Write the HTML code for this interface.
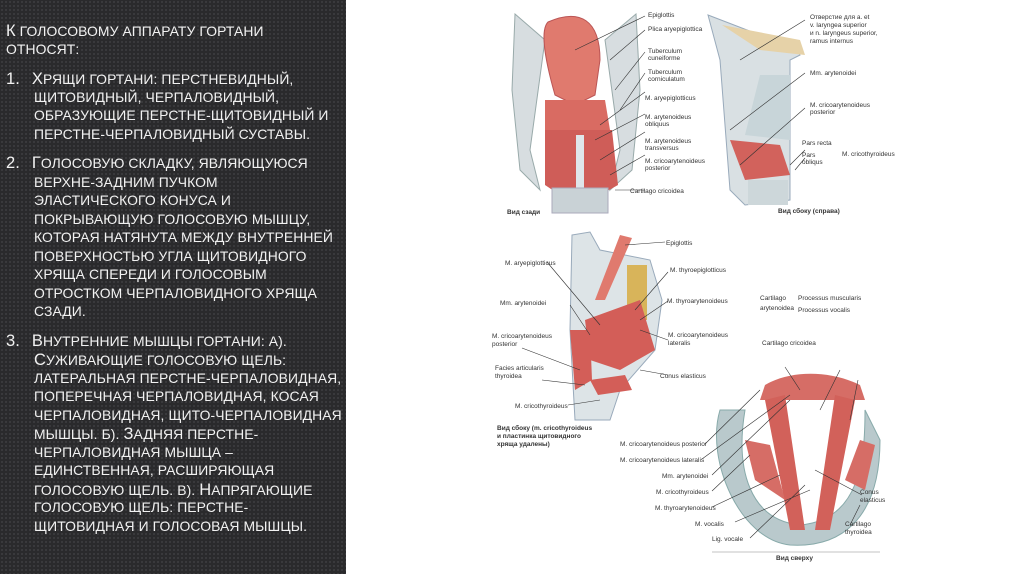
<!DOCTYPE html>
<html><head><meta charset="utf-8"><style>
html,body{margin:0;padding:0}
body{width:1024px;height:574px;position:relative;overflow:hidden;background:#fff;font-family:"Liberation Sans","DejaVu Sans",sans-serif}
#left{position:absolute;left:0;top:0;width:346px;height:574px;background:#2a2a2c;background-image:radial-gradient(#3a3a3d 1px,transparent 1.3px);background-size:4px 4px}
.l{position:absolute;color:#f2f2f2;font-size:13.9px;white-space:nowrap;text-transform:uppercase;letter-spacing:0.1px}
.l b{font-weight:normal;font-size:16.5px}
svg{position:absolute;left:0;top:0}
svg text{font-family:"Liberation Sans",sans-serif;font-size:6.5px;fill:#333}
</style></head><body>
<div id="left"></div>
<div class="l" style="left:6px;top:22px"><b>К</b> голосовому аппарату гортани</div>
<div class="l" style="left:6px;top:41px">относят:</div>
<div class="l" style="left:6px;top:70px"><b>1.</b>&nbsp;&nbsp;&nbsp;<b>Х</b>рящи гортани: перстневидный,</div>
<div class="l" style="left:34px;top:89px">щитовидный, черпаловидный,</div>
<div class="l" style="left:34px;top:107px">образующие перстне-щитовидный и</div>
<div class="l" style="left:34px;top:126px">перстне-черпаловидный суставы.</div>
<div class="l" style="left:6px;top:154px"><b>2.</b>&nbsp;&nbsp;&nbsp;<b>Г</b>олосовую складку, являющуюся</div>
<div class="l" style="left:34px;top:174px">верхне-задним пучком</div>
<div class="l" style="left:34px;top:192px">эластического конуса и</div>
<div class="l" style="left:34px;top:211px">покрывающую голосовую мышцу,</div>
<div class="l" style="left:34px;top:229px">которая натянута между внутренней</div>
<div class="l" style="left:34px;top:248px">поверхностью угла щитовидного</div>
<div class="l" style="left:34px;top:266px">хряща спереди и голосовым</div>
<div class="l" style="left:34px;top:285px">отростком черпаловидного хряща</div>
<div class="l" style="left:34px;top:303px">сзади.</div>
<div class="l" style="left:6px;top:332px"><b>3.</b>&nbsp;&nbsp;&nbsp;<b>В</b>нутренние мышцы гортани: а).</div>
<div class="l" style="left:34px;top:351px"><b>С</b>уживающие голосовую щель:</div>
<div class="l" style="left:34px;top:370px">латеральная перстне-черпаловидная,</div>
<div class="l" style="left:34px;top:388px">поперечная черпаловидная, косая</div>
<div class="l" style="left:34px;top:407px">черпаловидная, щито-черпаловидная</div>
<div class="l" style="left:34px;top:425px">мышцы. б). <b>З</b>адняя перстне-</div>
<div class="l" style="left:34px;top:444px">черпаловидная мышца –</div>
<div class="l" style="left:34px;top:462px">единственная, расширяющая</div>
<div class="l" style="left:34px;top:481px">голосовую щель. в). <b>Н</b>апрягающие</div>
<div class="l" style="left:34px;top:499px">голосовую щель: перстне-</div>
<div class="l" style="left:34px;top:518px">щитовидная и голосовая мышцы.</div>

<svg width="1024" height="574" viewBox="0 0 1024 574">
<path d="M515 14 L545 40 L530 150 L540 190 L520 170 L512 90 Z" fill="#d7dde0" stroke="#9aa"/>
<path d="M636 14 L605 40 L620 150 L610 190 L632 170 L640 90 Z" fill="#d7dde0" stroke="#9aa"/>
<path d="M548 22 C580 8 600 20 600 60 L595 95 L575 105 L555 95 C545 60 540 30 548 22Z" fill="#e07a6e" stroke="#b55"/>
<path d="M545 100 L605 100 L610 130 L545 130Z" fill="#d96b62"/>
<path d="M545 130 L612 130 L618 185 L600 195 L560 195 L545 185Z" fill="#cf5d58"/>
<rect x="576" y="135" width="8" height="55" fill="#dfe6ea"/>
<rect x="552" y="188" width="56" height="25" fill="#c9d2d6" stroke="#aab"/>
<path d="M708 15 L760 35 L790 40 L800 55 L790 60 L790 200 L745 205 L730 190 L720 60Z" fill="#d9e0e3" stroke="#9ab"/>
<path d="M722 25 L800 40 L805 55 L760 50Z" fill="#e6d2a8"/>
<path d="M760 75 L790 75 L790 140 L745 135Z" fill="#c8d5d9"/>
<path d="M730 140 L780 145 L790 175 L745 180Z" fill="#d2625c"/>
<rect x="748" y="180" width="40" height="25" fill="#cdd7da"/>
<path d="M572 235 L590 232 L600 250 L650 260 L662 300 L655 350 L620 390 L610 420 L575 420 L570 330Z" fill="#dde4e7" stroke="#9ab"/>
<path d="M620 235 L632 238 L605 300 L595 300Z" fill="#e07a6e"/>
<rect x="627" y="265" width="20" height="55" fill="#d8b45a"/>
<path d="M585 320 L640 300 L655 350 L620 370 L590 360Z" fill="#d35e58"/>
<path d="M570 330 L590 330 L592 380 L575 390Z" fill="#d35e58"/>
<path d="M590 380 L625 375 L632 390 L598 395Z" fill="#d35e58"/>
<path d="M720 410 C705 460 740 540 790 545 C840 548 880 520 880 440 L865 410 C865 460 860 520 800 525 C750 520 735 470 745 410Z" fill="#b9c9cc" stroke="#8aa"/>
<path d="M765 385 C790 370 830 370 860 385 L865 400 L760 400Z" fill="#d66d66"/>
<path d="M765 400 L785 395 L805 530 L790 530Z" fill="#d2615a"/>
<path d="M855 400 L835 395 L815 530 L830 530Z" fill="#d2615a"/>
<path d="M745 440 L770 445 L785 500 L755 480Z" fill="#d66d66"/>
<path d="M860 440 L875 445 L865 490 L845 480Z" fill="#d66d66"/>
<g stroke="#333" stroke-width="0.6" fill="none">
<path d="M575 50 L645 16 M610 60 L645 30 M615 90 L645 52 M620 110 L645 73 M600 125 L645 92 M595 140 L645 114 M600 160 L645 132 M610 175 L645 155 M615 190 L645 190"/>
<path d="M740 60 L805 20 M730 130 L805 73 M740 165 L805 108 M790 165 L805 150 M795 170 L805 158"/>
<path d="M625 245 L665 242 M547 262 L600 325 M570 305 L590 335 M522 348 L580 370 M542 380 L585 385 M568 405 L600 400 M635 310 L668 272 M640 320 L668 301 M640 330 L668 340 M640 370 L668 375"/>
<path d="M705 444 L760 390 M702 459 L790 395 M712 475 L790 400 M712 491 L750 455 M712 507 L780 475 M735 522 L810 490 M750 538 L805 485 M785 367 L800 390 M840 370 L820 410 M858 380 L850 420 M862 495 L815 470 M850 525 L860 505"/>
</g>
<text x="648" y="17">Epiglottis</text><text x="648" y="31">Plica aryepiglottica</text>
<text x="648" y="53">Tuberculum</text><text x="648" y="60">cuneiforme</text>
<text x="648" y="74">Tuberculum</text><text x="648" y="81">corniculatum</text>
<text x="645" y="100">M. aryepiglotticus</text>
<text x="645" y="119">M. arytenoideus</text><text x="645" y="126">obliquus</text>
<text x="645" y="143">M. arytenoideus</text><text x="645" y="150">transversus</text>
<text x="645" y="163">M. cricoarytenoideus</text><text x="645" y="170">posterior</text>
<text x="630" y="193">Cartilago cricoidea</text>
<text x="507" y="214" font-weight="bold">Вид сзади</text>
<text x="810" y="19">Отверстие для a. et</text><text x="810" y="27">v. laryngea superior</text><text x="810" y="35">и n. laryngeus superior,</text><text x="810" y="43">ramus internus</text>
<text x="810" y="75">Mm. arytenoidei</text>
<text x="810" y="107">M. cricoarytenoideus</text><text x="810" y="114">posterior</text>
<text x="802" y="145">Pars recta</text><text x="802" y="157">Pars</text><text x="802" y="164">obliqus</text>
<text x="842" y="156">M. cricothyroideus</text>
<text x="778" y="213" font-weight="bold">Вид сбоку (справа)</text>
<text x="666" y="245">Epiglottis</text>
<text x="505" y="265">M. aryepiglotticus</text>
<text x="670" y="272">M. thyroepiglotticus</text>
<text x="500" y="305">Mm. arytenoidei</text>
<text x="667" y="303">M. thyroarytenoideus</text>
<text x="492" y="338">M. cricoarytenoideus</text><text x="492" y="346">posterior</text>
<text x="668" y="337">M. cricoarytenoideus</text><text x="668" y="345">lateralis</text>
<text x="495" y="370">Facies articularis</text><text x="495" y="378">thyroidea</text>
<text x="660" y="378">Conus elasticus</text>
<text x="515" y="408">M. cricothyroideus</text>
<text x="497" y="430" font-weight="bold">Вид сбоку (m. cricothyroideus</text>
<text x="497" y="438" font-weight="bold">и пластинка щитовидного</text>
<text x="497" y="446" font-weight="bold">хряща удалены)</text>
<text x="760" y="300">Cartilago</text><text x="760" y="310">arytenoidea</text>
<text x="798" y="300">Processus muscularis</text><text x="798" y="312">Processus vocalis</text>
<text x="762" y="345">Cartilago cricoidea</text>
<text x="620" y="446">M. cricoarytenoideus posterior</text>
<text x="620" y="462">M. cricoarytenoideus lateralis</text>
<text x="662" y="478">Mm. arytenoidei</text>
<text x="656" y="494">M. cricothyroideus</text>
<text x="655" y="510">M. thyroarytenoideus</text>
<text x="695" y="526">M. vocalis</text>
<text x="712" y="541">Lig. vocale</text>
<text x="860" y="494">Conus</text><text x="860" y="502">elasticus</text>
<text x="845" y="526">Cartilago</text><text x="845" y="534">thyroidea</text>
<line x1="712" y1="552" x2="880" y2="552" stroke="#888" stroke-width="0.6"/>
<text x="776" y="560" font-weight="bold">Вид сверху</text>
</svg>
</body></html>
